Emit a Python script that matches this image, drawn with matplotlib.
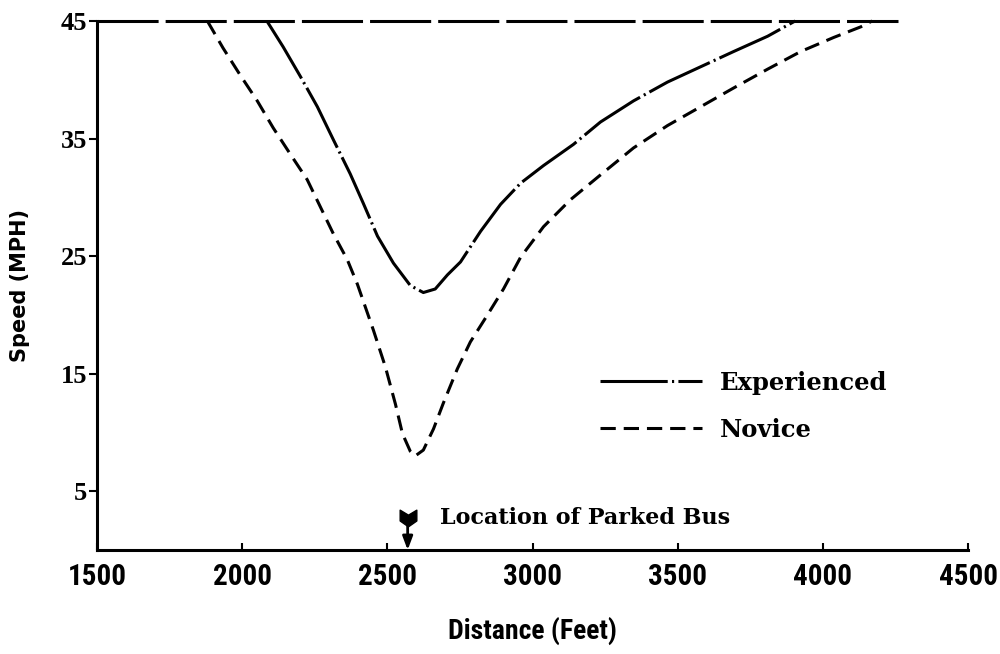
import numpy as np
import matplotlib.pyplot as plt
from matplotlib.lines import Line2D
from matplotlib.path import Path

# speed profiles approaching the parked bus
novice_x = [1880, 1934, 1993, 2052, 2107, 2165, 2224, 2269, 2314, 2362, 2397,
            2452, 2493, 2528, 2552, 2579, 2596, 2624, 2659, 2693, 2741, 2786,
            2845, 2900, 2959, 3038, 3131, 3234, 3348, 3465, 3579, 3693, 3810,
            3924, 4038, 4131, 4170]
novice_mph = [45, 42.7, 40.4, 38.2, 35.9, 33.7, 31.5, 29.2, 26.9, 24.7, 22.6,
              18.7, 15.6, 12.4, 9.9, 8.4, 8.0, 8.5, 10.3, 12.5, 15.4, 17.7,
              20.0, 22.2, 24.9, 27.5, 29.8, 31.9, 34.2, 36.1, 37.7, 39.3, 40.9,
              42.4, 43.6, 44.5, 45]

exp_x = [2085, 2141, 2200, 2259, 2314, 2372, 2417, 2466, 2521, 2579, 2624,
         2665, 2707, 2752, 2821, 2890, 2959, 3038, 3141, 3234, 3348, 3465,
         3579, 3693, 3810, 3905]
exp_mph = [45, 42.8, 40.3, 37.7, 34.9, 32.0, 29.5, 26.7, 24.4, 22.5, 21.9,
           22.2, 23.4, 24.5, 27.1, 29.4, 31.2, 32.7, 34.5, 36.4, 38.2, 39.8,
           41.1, 42.4, 43.7, 45]

# free-flow speed before and after the bus
cruise_x = [1500, 4260]
cruise_mph = [45, 45]

bus_x = 2570

xticks = [1500, 2000, 2500, 3000, 3500, 4000, 4500]
yticks = [5, 15, 25, 35, 45]

narrow = ['Roboto Condensed', 'Liberation Sans Narrow', 'Liberation Sans']
serif = ['DejaVu Serif']

fig = plt.figure(figsize=(10, 6.54), dpi=100)
ax = fig.add_axes([0.097, 0.159, 0.871, 0.809])

lw = 2.2
ax.plot(cruise_x, cruise_mph, color='black', lw=lw, dashes=(20, 2.3), clip_on=False)
ln_exp, = ax.plot(exp_x, exp_mph, color='black', lw=lw, dashes=(22, 1.4, 0.7, 1.4),
                  clip_on=False)
ln_nov, = ax.plot(novice_x, novice_mph, color='black', lw=lw, dashes=(5, 2.6),
                  clip_on=False)

ax.set_xlim(1500, 4500)
ax.set_ylim(0, 45)
ax.set_xticks(xticks)
ax.set_yticks(yticks)
ax.set_xticklabels([str(t) for t in xticks], family=narrow, fontweight='bold', fontsize=21)
ax.set_yticklabels([str(t) for t in yticks], family=['Liberation Serif'], fontweight='bold',
                   fontsize=19)
ax.tick_params(axis='x', direction='in', length=5, width=1.5, pad=9)
ax.tick_params(axis='y', direction='out', length=6, width=1.5, pad=1)

for s in ['top', 'right']:
    ax.spines[s].set_visible(False)
for s in ['left', 'bottom']:
    ax.spines[s].set_linewidth(2.2)

ax.set_xlabel('Distance (Feet)', family=narrow, fontweight='bold', fontsize=20, labelpad=19)
ax.set_ylabel('Speed (MPH)', fontweight='bold', fontsize=15, labelpad=22)

# legend
leg = ax.legend([ln_exp, ln_nov], ['Experienced', 'Novice'], loc='upper left',
                bbox_to_anchor=(0.600, 0.433), bbox_transform=fig.transFigure,
                frameon=False, handlelength=4.2, handletextpad=0.75, labelspacing=0.95,
                borderpad=0, borderaxespad=0,
                prop={'family': serif, 'weight': 'bold', 'size': 17.5})

# arrow marking the bus
fletch = Path([(-1, 1), (0, 0.4), (1, 1), (1, -0.3), (0, -1), (-1, -0.3), (-1, 1)],
              [Path.MOVETO] + [Path.LINETO] * 5 + [Path.CLOSEPOLY])
ax.annotate('', xy=(bus_x, 0), xytext=(bus_x, 2.2),
            arrowprops=dict(arrowstyle='-|>,head_length=0.8,head_width=0.3',
                            color='black', lw=2, shrinkA=0, shrinkB=0))
ax.plot(bus_x, 2.7, marker=fletch, ms=12, color='black', clip_on=False)
ax.text(2683, 2.7, 'Location of Parked Bus', family=serif, fontweight='bold',
        fontsize=16, va='center', ha='left')

fig.savefig('out.png', dpi=100)
